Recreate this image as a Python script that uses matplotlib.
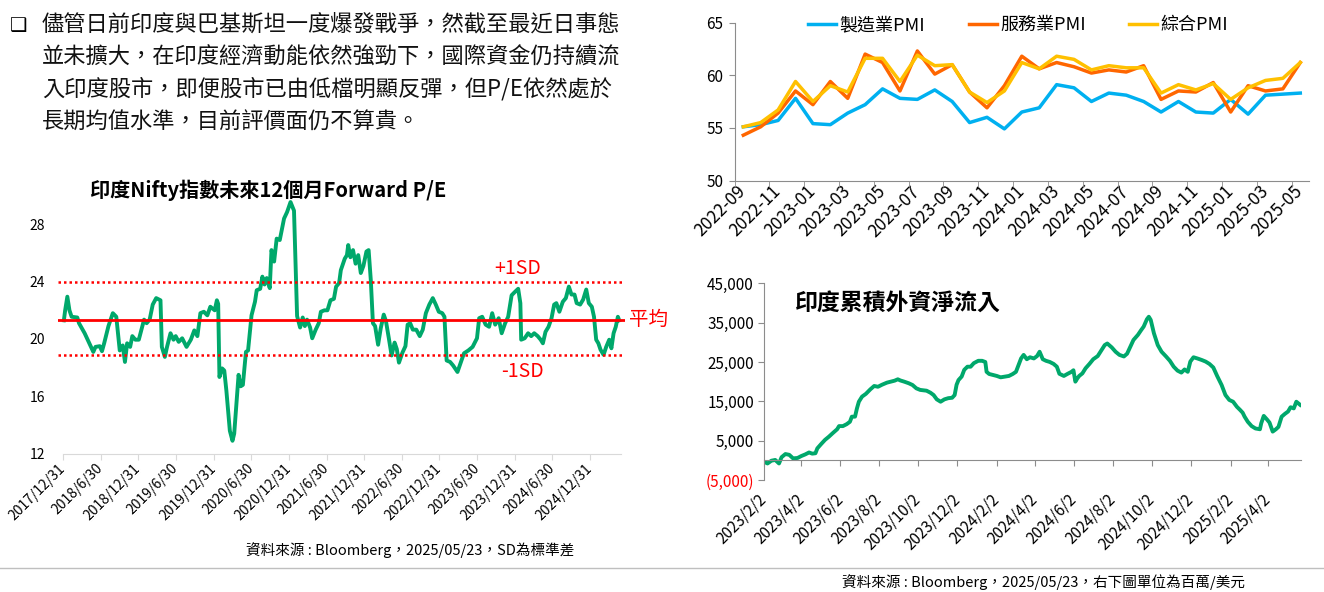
import matplotlib
matplotlib.use("Agg")
import matplotlib.pyplot as plt
import pandas as pd

plt.rcParams['font.family'] = ['Noto Sans CJK TC', 'DejaVu Sans']

# ---------------- data ----------------
intro_lines = [
    "儘管日前印度與巴基斯坦一度爆發戰爭，然截至最近日事態",
    "並未擴大，在印度經濟動能依然強勁下，國際資金仍持續流",
    "入印度股市，即便股市已由低檔明顯反彈，但P/E依然處於",
    "長期均值水準，目前評價面仍不算貴。",
]

pe_title = "印度Nifty指數未來12個月Forward P/E"
pe_year = [
    2018.012, 2018.029, 2018.058, 2018.086, 2018.115, 2018.190, 2018.213, 2018.288,
    2018.403, 2018.432, 2018.489, 2018.518, 2018.547, 2018.604, 2018.662, 2018.708,
    2018.754, 2018.794, 2018.823, 2018.852, 2018.892, 2018.921, 2018.961, 2019.007,
    2019.077, 2019.111, 2019.151, 2019.192, 2019.238, 2019.295, 2019.313, 2019.353,
    2019.382, 2019.428, 2019.468, 2019.497, 2019.537, 2019.583, 2019.641, 2019.698,
    2019.744, 2019.785, 2019.825, 2019.871, 2019.917, 2019.957, 2020.015, 2020.044,
    2020.061, 2020.078, 2020.113, 2020.142, 2020.170, 2020.216, 2020.251, 2020.274,
    2020.303, 2020.332, 2020.360, 2020.389, 2020.430, 2020.458, 2020.504, 2020.550,
    2020.573, 2020.619, 2020.648, 2020.677, 2020.706, 2020.746, 2020.769, 2020.804,
    2020.838, 2020.879, 2020.936, 2020.976, 2021.022, 2021.068, 2021.109, 2021.149,
    2021.184, 2021.212, 2021.241, 2021.282, 2021.310, 2021.356, 2021.397, 2021.425,
    2021.472, 2021.512, 2021.552, 2021.598, 2021.627, 2021.667, 2021.690, 2021.742,
    2021.771, 2021.788, 2021.817, 2021.852, 2021.886, 2021.921, 2021.955, 2021.990,
    2022.030, 2022.059, 2022.088, 2022.116, 2022.145, 2022.185, 2022.220, 2022.260,
    2022.289, 2022.329, 2022.364, 2022.404, 2022.433, 2022.462, 2022.508, 2022.548,
    2022.577, 2022.611, 2022.646, 2022.692, 2022.738, 2022.778, 2022.819, 2022.865,
    2022.911, 2022.951, 2022.991, 2023.037, 2023.066, 2023.095, 2023.141, 2023.181,
    2023.239, 2023.279, 2023.325, 2023.383, 2023.440, 2023.498, 2023.527, 2023.567,
    2023.613, 2023.659, 2023.700, 2023.740, 2023.786, 2023.826, 2023.872, 2023.912,
    2023.958, 2024.005, 2024.045, 2024.074, 2024.085, 2024.131, 2024.177, 2024.218,
    2024.258, 2024.304, 2024.344, 2024.373, 2024.408, 2024.448, 2024.488, 2024.523,
    2024.552, 2024.592, 2024.638, 2024.678, 2024.718, 2024.753, 2024.793, 2024.822,
    2024.868, 2024.908, 2024.949, 2024.983, 2025.023, 2025.052, 2025.081, 2025.110,
    2025.139, 2025.179, 2025.214, 2025.254, 2025.283, 2025.312, 2025.341, 2025.369,
    2025.387,
]
pe_value = [
    21.3, 22.0, 22.95, 22.0, 21.55, 21.5, 21.1, 20.4,
    19.1, 19.45, 19.5, 19.15, 19.7, 20.9, 21.8, 21.55,
    19.2, 19.55, 18.4, 19.7, 19.45, 20.2, 19.95, 19.95,
    21.35, 21.1, 21.35, 22.4, 22.85, 22.7, 19.45, 18.75,
    19.45, 20.4, 19.95, 20.2, 19.8, 20.05, 19.45, 19.95,
    20.6, 20.2, 21.8, 21.9, 21.65, 22.25, 22.0, 22.7,
    22.45, 17.35, 17.95, 17.8, 16.4, 13.6, 12.9, 13.4,
    15.5, 17.5, 16.7, 16.8, 19.1, 19.2, 21.65, 22.6,
    23.4, 23.5, 24.35, 23.8, 24.25, 23.55, 26.2, 25.4,
    27.0, 26.9, 28.4, 28.85, 29.55, 28.95, 21.6, 20.8,
    21.5, 20.9, 21.35, 20.8, 20.05, 20.65, 21.1, 21.9,
    22.0, 22.0, 22.7, 22.8, 23.65, 23.9, 24.8, 25.6,
    25.85, 26.55, 25.7, 26.2, 25.25, 25.85, 24.6, 25.1,
    26.1, 26.2, 24.1, 21.1, 20.9, 19.6, 20.75, 21.7,
    21.25, 20.0, 18.85, 19.75, 19.3, 18.35, 19.05, 19.5,
    21.0, 21.1, 20.65, 20.65, 20.2, 20.65, 21.8, 22.4,
    22.85, 22.4, 21.9, 21.8, 21.55, 18.5, 18.4, 18.15,
    17.7, 18.3, 19.0, 19.2, 19.45, 20.05, 21.45, 21.55,
    21.0, 20.85, 21.8, 21.0, 21.45, 20.4, 21.1, 21.55,
    23.05, 23.3, 23.5, 22.5, 19.95, 20.05, 20.4, 20.2,
    20.4, 20.2, 19.95, 19.7, 20.5, 20.85, 21.45, 22.4,
    22.5, 21.9, 22.6, 22.85, 23.65, 23.1, 23.1, 22.5,
    22.4, 22.75, 23.45, 22.5, 22.25, 21.55, 19.95, 19.7,
    19.25, 18.9, 19.45, 19.95, 19.35, 20.4, 20.85, 21.55,
    21.3,
]
pe_mean = 21.35
pe_plus_sd = 24.0
pe_minus_sd = 18.9
pe_tick_year = [2018.0 + 0.5 * i for i in range(15)]
pe_tick_label = [
    "2017/12/31", "2018/6/30", "2018/12/31", "2019/6/30", "2019/12/31",
    "2020/6/30", "2020/12/31", "2021/6/30", "2021/12/31", "2022/6/30",
    "2022/12/31", "2023/6/30", "2023/12/31", "2024/6/30", "2024/12/31",
]

pmi_months = list(pd.period_range("2022-09", "2025-05", freq="M").strftime("%Y-%m"))
pmi_manu = [55.1, 55.3, 55.7, 57.8, 55.4, 55.3, 56.4, 57.2, 58.7, 57.8, 57.7, 58.6,
            57.5, 55.5, 56.0, 54.9, 56.5, 56.9, 59.1, 58.8, 57.5, 58.3, 58.1, 57.5,
            56.5, 57.5, 56.5, 56.4, 57.7, 56.3, 58.1, 58.2, 58.3]
pmi_serv = [54.3, 55.1, 56.4, 58.5, 57.2, 59.4, 57.8, 62.0, 61.2, 58.5, 62.3, 60.1,
            61.0, 58.4, 56.9, 59.0, 61.8, 60.6, 61.2, 60.8, 60.2, 60.5, 60.3, 60.9,
            57.7, 58.5, 58.4, 59.3, 56.5, 59.0, 58.5, 58.7, 61.2]
pmi_comp = [55.1, 55.5, 56.7, 59.4, 57.5, 59.0, 58.4, 61.6, 61.6, 59.4, 61.9, 60.9,
            61.0, 58.4, 57.4, 58.5, 61.2, 60.6, 61.8, 61.5, 60.5, 60.9, 60.7, 60.7,
            58.3, 59.1, 58.6, 59.2, 57.7, 58.8, 59.5, 59.7, 61.2]

fii_title = "印度累積外資淨流入"
fii_date = [
    "2023-02-02", "2023-02-08", "2023-02-14", "2023-02-20", "2023-02-26", "2023-03-02",
    "2023-03-08", "2023-03-14", "2023-03-20", "2023-03-27", "2023-04-02", "2023-04-08",
    "2023-04-14", "2023-04-19", "2023-04-24", "2023-04-27", "2023-05-03", "2023-05-09",
    "2023-05-15", "2023-05-21", "2023-05-28", "2023-05-31", "2023-06-06", "2023-06-12",
    "2023-06-17", "2023-06-20", "2023-06-25", "2023-06-28", "2023-07-01", "2023-07-06",
    "2023-07-12", "2023-07-19", "2023-07-25", "2023-07-31", "2023-08-06", "2023-08-14",
    "2023-08-20", "2023-08-26", "2023-08-31", "2023-09-04", "2023-09-10", "2023-09-17",
    "2023-09-23", "2023-09-29", "2023-10-05", "2023-10-15", "2023-10-21", "2023-10-26",
    "2023-10-31", "2023-11-06", "2023-11-12", "2023-11-18", "2023-11-24", "2023-11-28",
    "2023-12-01", "2023-12-04", "2023-12-09", "2023-12-13", "2023-12-18", "2023-12-23",
    "2023-12-28", "2024-01-04", "2024-01-10", "2024-01-15", "2024-01-17", "2024-01-21",
    "2024-01-27", "2024-02-02", "2024-02-08", "2024-02-15", "2024-02-21", "2024-02-27",
    "2024-03-03", "2024-03-06", "2024-03-11", "2024-03-15", "2024-03-20", "2024-03-25",
    "2024-03-31", "2024-04-05", "2024-04-09", "2024-04-14", "2024-04-19", "2024-04-25",
    "2024-05-01", "2024-05-06", "2024-05-10", "2024-05-17", "2024-05-23", "2024-05-29",
    "2024-06-01", "2024-06-04", "2024-06-07", "2024-06-10", "2024-06-15", "2024-06-20",
    "2024-06-26", "2024-07-02", "2024-07-09", "2024-07-15", "2024-07-20", "2024-07-24",
    "2024-07-31", "2024-08-06", "2024-08-12", "2024-08-19", "2024-08-24", "2024-08-28",
    "2024-09-03", "2024-09-10", "2024-09-15", "2024-09-19", "2024-09-24", "2024-09-27",
    "2024-09-30", "2024-10-05", "2024-10-11", "2024-10-17", "2024-10-24", "2024-10-30",
    "2024-11-05", "2024-11-11", "2024-11-17", "2024-11-22", "2024-11-27", "2024-12-01",
    "2024-12-06", "2024-12-12", "2024-12-19", "2024-12-25", "2024-12-31", "2025-01-06",
    "2025-01-12", "2025-01-19", "2025-01-25", "2025-01-31", "2025-02-06", "2025-02-12",
    "2025-02-17", "2025-02-21", "2025-02-24", "2025-03-01", "2025-03-07", "2025-03-13",
    "2025-03-20", "2025-03-22", "2025-03-26", "2025-03-31", "2025-04-04", "2025-04-09",
    "2025-04-14", "2025-04-18", "2025-04-23", "2025-04-28", "2025-05-03", "2025-05-07",
    "2025-05-12", "2025-05-16", "2025-05-22",
]
fii_value = [
    -300, -800, -100, 100, -800, 800,
    1600, 1400, 500, 600, 1100, 1500,
    2000, 1700, 1800, 3050, 4150, 5200,
    6000, 6900, 7900, 8700, 8700, 9200,
    9800, 11100, 11100, 13200, 14900, 16200,
    16900, 18050, 18900, 18700, 19200, 19750,
    20000, 20250, 20600, 20300, 20000, 19600,
    19150, 18300, 17900, 17700, 17200, 16600,
    15500, 14900, 15500, 15800, 15900, 16600,
    19200, 20400, 21300, 23000, 23800, 23800,
    24700, 25300, 25300, 25000, 22500, 21950,
    21700, 21450, 21100, 21300, 21450, 21950,
    22500, 23800, 25900, 26800, 25700, 26200,
    25900, 26500, 27600, 25700, 25300, 25000,
    24500, 23800, 22000, 21450, 22000, 22500,
    22900, 20000, 20800, 21450, 22100, 23400,
    24500, 25700, 26500, 28050, 29300, 29700,
    28700, 27600, 26800, 26400, 27100, 28500,
    30600, 31900, 33100, 34000, 35850, 36500,
    35700, 32300, 29300, 27600, 26400, 25300,
    23800, 22800, 22300, 23100, 22500, 25100,
    26200, 25900, 25500, 25100, 24500, 23600,
    21450, 19150, 16600, 15350, 14900, 13600,
    12800, 12100, 11100, 9800, 8700, 8100,
    7900, 9400, 11300, 10400, 9600, 7300,
    7900, 8500, 11100, 11800, 12400, 13500,
    13200, 14900, 14100,
]
fii_ticks = ["2023-02-02", "2023-04-02", "2023-06-02", "2023-08-02", "2023-10-02",
             "2023-12-02", "2024-02-02", "2024-04-02", "2024-06-02", "2024-08-02",
             "2024-10-02", "2024-12-02", "2025-02-02", "2025-04-02"]
fii_yticks = [-5000, 5000, 15000, 25000, 35000, 45000]

source_left = "資料來源 : Bloomberg，2025/05/23，SD為標準差"
source_right = "資料來源 : Bloomberg，2025/05/23，右下圖單位為百萬/美元"

GREEN = "#00A86B"
RED = "#FF0000"
GREY = "#8C8C8C"
W, H = 1324, 592


def box(x0, y0, x1, y1):
    # pixel box (top-left origin) -> figure fraction rect
    return [x0 / W, 1 - y1 / H, (x1 - x0) / W, (y1 - y0) / H]


def tilt(ax):
    for lab in ax.get_xticklabels():
        lab.set_rotation(45)
        lab.set_ha("right")
        lab.set_va("center")
        lab.set_rotation_mode("anchor")


fig = plt.figure(figsize=(W / 100, H / 100), dpi=100)

# ---------------- intro text ----------------
fig.text(10 / W, 1 - 25 / H, "❑", fontsize=14, family=["DejaVu Sans"],
         va="center", ha="left")
for i, line in enumerate(intro_lines):
    fig.text(42 / W, 1 - (24 + 32.6 * i) / H, line, fontsize=16.0, va="center",
             ha="left", color="#111111")

# ---------------- left: forward P/E ----------------
ax1 = fig.add_axes(box(57.7, 195.6, 624.5, 453.7))
ax1.plot(pe_year, pe_value, color=GREEN, lw=2.8, solid_joinstyle="round")
ax1.axhline(pe_mean, color=RED, lw=2.0)
ax1.axhline(pe_plus_sd, color=RED, lw=1.8, ls=(0, (1, 1.2)))
ax1.axhline(pe_minus_sd, color=RED, lw=1.8, ls=(0, (1, 1.2)))
ax1.set_xlim(2017.93, 2025.457)
ax1.set_ylim(12, 30)
ax1.set_yticks([12, 16, 20, 24, 28])
ax1.set_xticks(pe_tick_year, pe_tick_label)
for s in ["top", "right", "left"]:
    ax1.spines[s].set_visible(False)
ax1.spines["bottom"].set_color("#D9D9D9")
ax1.spines["bottom"].set_bounds(2018.0, 2025.41)
ax1.tick_params(axis="y", length=0, pad=9, labelsize=10)
ax1.tick_params(axis="x", length=4, color="#D9D9D9", labelsize=10, pad=5)
tilt(ax1)
ax1.text(2024.04, 24.95, "+1SD", color=RED, fontsize=14, ha="center", va="center")
ax1.text(2024.10, 17.7, "-1SD", color=RED, fontsize=14, ha="center", va="center")
ax1.text(2025.77, pe_mean, "平均", color=RED, fontsize=14, ha="center",
         va="center", clip_on=False)
fig.text(90 / W, 1 - 190 / H, pe_title, fontsize=14.5, fontweight="bold",
         ha="left", va="center")
fig.text(410 / W, 1 - 550 / H, source_left, fontsize=10.5, ha="center", va="center")

# ---------------- top right: PMI ----------------
ax2 = fig.add_axes(box(734.6, 22.5, 1309, 180.5))
xs = range(len(pmi_months))
ax2.plot(xs, pmi_manu, color="#00B0F0", lw=2.5, label="製造業PMI")
ax2.plot(xs, pmi_serv, color="#FF6600", lw=2.5, label="服務業PMI")
ax2.plot(xs, pmi_comp, color="#FFC000", lw=2.5, label="綜合PMI")
ax2.set_xlim(-0.5, len(pmi_months) - 0.5)
ax2.set_ylim(50, 65)
ax2.set_yticks([50, 55, 60, 65])
ax2.set_xticks(list(xs)[::2], pmi_months[::2])
ax2.set_xticks([i - 0.5 for i in list(xs)[::2]], minor=True)
for s in ["top", "right"]:
    ax2.spines[s].set_visible(False)
for s in ["left", "bottom"]:
    ax2.spines[s].set_color(GREY)
ax2.tick_params(axis="x", which="major", length=0, labelsize=12.5, pad=6)
ax2.tick_params(axis="x", which="minor", length=4, color=GREY)
ax2.tick_params(axis="y", length=4, color=GREY, labelsize=11, pad=4)
tilt(ax2)
ax2.legend(loc="center", bbox_to_anchor=(0.494, 0.985), ncol=3, frameon=False,
           fontsize=13, handlelength=1.55, handletextpad=0.2, columnspacing=2.4,
           borderpad=0, borderaxespad=0)

# ---------------- bottom right: cumulative FII ----------------
ax3 = fig.add_axes(box(763.7, 283.3, 1300.8, 480))
ax3.plot(pd.to_datetime(fii_date), fii_value, color=GREEN, lw=2.8,
         solid_joinstyle="round")
ax3.set_xlim(pd.Timestamp("2023-02-02"), pd.Timestamp("2025-05-23"))
ax3.set_ylim(-5000, 45000)
ax3.set_yticks(fii_yticks,
               [f"({-v:,})" if v < 0 else f"{v:,}" for v in fii_yticks])
ax3.get_yticklabels()[0].set_color(RED)
tick_dates = pd.to_datetime(fii_ticks)
ax3.set_xticks(tick_dates, [f"{d.year}/{d.month}/{d.day}" for d in tick_dates])
for s in ["top", "right"]:
    ax3.spines[s].set_visible(False)
ax3.spines["left"].set_color(GREY)
ax3.spines["bottom"].set_color(GREY)
ax3.spines["bottom"].set_position(("data", 0))
ax3.tick_params(axis="y", length=4, color=GREY, labelsize=11, pad=3)
ax3.tick_params(axis="x", length=4, color=GREY, labelsize=11, pad=22)
tilt(ax3)
fig.text(795 / W, 1 - 303 / H, fii_title, fontsize=16.5, fontweight="bold",
         ha="left", va="center")

# ---------------- separator + footer ----------------
fig.add_artist(plt.Line2D([0, 1], [1 - 568 / H, 1 - 568 / H], color="#BFBFBF",
                          lw=1, transform=fig.transFigure))
fig.text(1043 / W, 1 - 582 / H, source_right, fontsize=10.5, ha="center", va="center")

fig.savefig("out.png", dpi=100)
